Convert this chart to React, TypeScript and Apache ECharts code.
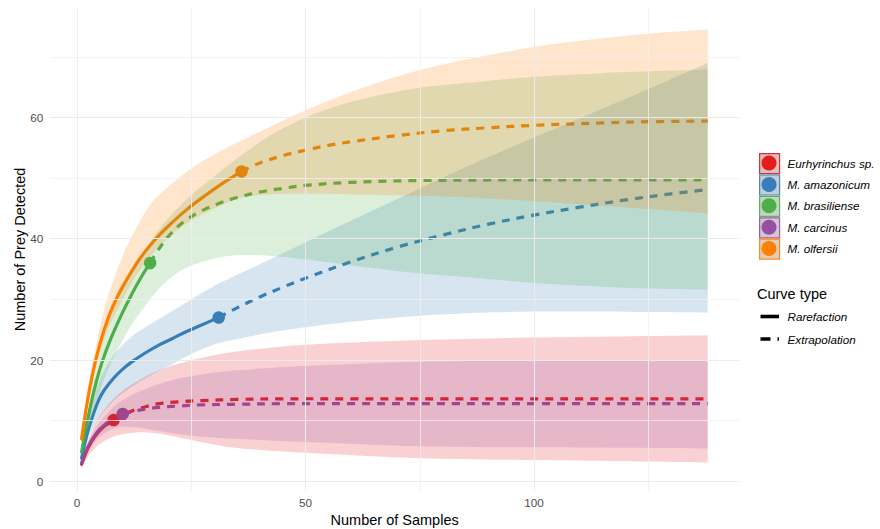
import React, { useEffect, useRef } from "react";
import * as echarts from "echarts";

// ---------- data ----------
const species = ["Eurhyrinchus sp.", "M. amazonicum", "M. brasiliense", "M. carcinus", "M. olfersii"];
const colors = ["#E41A1C", "#377EB8", "#4DAF4A", "#984EA3", "#FF7F00"];

// Eurhyrinchus sp.
const eurRareX = [1, 2, 3, 4, 5, 6, 7, 8];
const eurRareY = [2.8, 4.8, 6.3, 7.5, 8.4, 9.1, 9.6, 10.1];
const eurExtX = [8, 10, 12, 15, 18, 22, 27, 35, 45, 60, 80, 100, 138];
const eurExtY = [10.1, 10.9, 11.6, 12.3, 12.8, 13.1, 13.3, 13.5, 13.6, 13.6, 13.6, 13.6, 13.6];
const eurBandX = [1, 2, 3, 5, 8, 11, 15, 20, 27, 35, 50, 75, 100, 138];
const eurLow = [2.2, 3.6, 4.7, 6.2, 7.4, 7.9, 8.1, 7.6, 6.5, 5.5, 4.7, 3.8, 3.5, 3.1];
const eurUp = [3.3, 5.8, 7.8, 10.8, 13.6, 15.5, 17.3, 18.9, 20.3, 21.4, 22.5, 23.3, 23.7, 24.1];

// M. amazonicum
const amaRareX = [1, 2, 3, 4, 5, 6, 8, 10, 12, 15, 18, 21, 24, 27, 31];
const amaRareY = [3.8, 7.2, 9.8, 12.0, 13.8, 15.1, 17.0, 18.5, 19.7, 21.2, 22.5, 23.6, 24.7, 25.7, 27.0];
const amaExtX = [31, 35, 40, 45, 50, 60, 70, 80, 90, 100, 110, 120, 130, 138];
const amaExtY = [27.0, 28.6, 30.4, 32.0, 33.5, 36.2, 38.6, 40.6, 42.4, 43.9, 45.2, 46.4, 47.4, 48.1];
const amaBandX = [1, 2, 3, 5, 8, 12, 16, 20, 25, 31, 36, 42, 50, 60, 75, 88, 100, 112, 125, 138];
const amaLow = [3.3, 6.0, 8.0, 10.6, 13.3, 15.6, 17.4, 19.0, 21.0, 22.8, 23.6, 24.5, 25.4, 26.3, 27.3, 27.8, 28.0, 28.0, 27.9, 27.8];
const amaUp = [4.4, 8.5, 11.7, 16.8, 20.8, 23.9, 25.9, 27.7, 30.0, 32.6, 34.4, 36.5, 39.4, 43.0, 48.3, 52.8, 56.7, 60.5, 64.7, 69.0];

// M. brasiliense
const braRareX = [1, 2, 3, 4, 5, 6, 7, 8, 10, 12, 14, 16];
const braRareY = [4.8, 9.0, 12.6, 15.8, 18.5, 20.8, 22.8, 24.6, 27.9, 30.9, 33.6, 36.0];
const braExtX = [16, 18, 20, 23, 27, 31, 35, 40, 45, 50, 60, 75, 100, 138];
const braExtY = [36.0, 38.4, 40.4, 42.6, 44.5, 45.8, 46.8, 47.7, 48.3, 48.8, 49.3, 49.6, 49.7, 49.7];
const braBandX = [1, 2, 3, 5, 7, 10, 13, 16, 19, 23, 27, 31, 36, 42, 50, 60, 75, 88, 100, 115, 125, 138];
const braLow = [4.2, 6.8, 9.6, 14.8, 18.8, 23.3, 27.0, 30.0, 32.6, 34.9, 36.1, 36.9, 37.3, 37.2, 36.6, 35.6, 34.3, 33.5, 32.7, 32.1, 31.8, 31.6];
const braUp = [5.4, 10.0, 14.0, 21.0, 26.5, 32.0, 36.0, 39.5, 42.5, 45.8, 48.5, 50.9, 53.8, 56.9, 60.0, 62.6, 64.9, 65.9, 66.7, 67.3, 67.6, 67.9];

// M. carcinus
const carRareX = [1, 2, 3, 4, 5, 6, 7, 8, 9, 10];
const carRareY = [3.0, 5.0, 6.5, 7.7, 8.6, 9.3, 9.9, 10.4, 10.8, 11.1];
const carExtX = [10, 12, 15, 18, 22, 27, 35, 45, 60, 80, 138];
const carExtY = [11.1, 11.5, 11.9, 12.2, 12.4, 12.6, 12.7, 12.8, 12.8, 12.8, 12.8];
const carBandX = [1, 2, 3, 5, 8, 10, 13, 17, 22, 28, 35, 50, 75, 100, 138];
const carLow = [2.6, 4.4, 5.7, 7.4, 8.7, 9.0, 8.9, 8.4, 7.8, 7.3, 7.0, 6.5, 5.8, 5.6, 5.4];
const carUp = [3.4, 5.6, 7.3, 9.8, 12.3, 13.4, 14.6, 15.8, 16.9, 17.7, 18.3, 19.0, 19.7, 19.9, 20.0];

// M. olfersii
const olfRareX = [1, 2, 3, 4, 5, 6, 7, 8, 9, 10, 12, 14, 17, 20, 24, 28, 32, 36];
const olfRareY = [7.0, 12.0, 16.2, 19.7, 22.6, 25.1, 27.3, 29.1, 30.7, 32.1, 34.7, 37.0, 39.8, 42.1, 44.8, 47.1, 49.2, 51.1];
const olfExtX = [36, 40, 45, 50, 55, 60, 70, 80, 90, 100, 115, 125, 138];
const olfExtY = [51.1, 52.5, 53.7, 54.6, 55.4, 56.0, 57.0, 57.8, 58.3, 58.7, 59.1, 59.3, 59.4];
const olfBandX = [1, 2, 3, 5, 7, 10, 13, 16, 20, 25, 30, 36, 42, 50, 60, 72, 84, 100, 112, 125, 138];
const olfLow = [6.2, 10.9, 14.3, 21.0, 25.5, 30.0, 34.0, 37.0, 40.2, 43.0, 45.0, 46.8, 47.3, 47.4, 47.3, 47.1, 46.9, 46.2, 45.6, 44.9, 44.2];
const olfUp = [7.8, 13.6, 17.9, 25.4, 31.0, 37.2, 41.8, 45.6, 48.6, 51.6, 53.9, 56.2, 58.4, 61.2, 64.2, 67.2, 69.4, 71.6, 72.8, 73.8, 74.5];

const xMajorTicks = [0, 50, 100];
const xMinorTicks = [25, 75, 125];
const yMajorTicks = [0, 20, 40, 60];
const yMinorTicks = [10, 30, 50, 70];

const curveTypes = ["Rarefaction", "Extrapolation"];

const curves = [
  { rx: eurRareX, ry: eurRareY, ex: eurExtX, ey: eurExtY, bx: eurBandX, lo: eurLow, up: eurUp },
  { rx: amaRareX, ry: amaRareY, ex: amaExtX, ey: amaExtY, bx: amaBandX, lo: amaLow, up: amaUp },
  { rx: braRareX, ry: braRareY, ex: braExtX, ey: braExtY, bx: braBandX, lo: braLow, up: braUp },
  { rx: carRareX, ry: carRareY, ex: carExtX, ey: carExtY, bx: carBandX, lo: carLow, up: carUp },
  { rx: olfRareX, ry: olfRareY, ex: olfExtX, ey: olfExtY, bx: olfBandX, lo: olfLow, up: olfUp },
];

const FONT = "'Liberation Sans', Arial, Helvetica, sans-serif";

function hexToRgba(hex: string, a: number) {
  const n = parseInt(hex.slice(1), 16);
  return `rgba(${(n >> 16) & 255},${(n >> 8) & 255},${n & 255},${a})`;
}

export default function App() {
  const ref = useRef<HTMLDivElement>(null);

  useEffect(() => {
    if (!ref.current) return;
    const chart = echarts.init(ref.current, undefined, { renderer: "svg" });

    const series: any[] = [];

    // grid lines through the axes' scales
    series.push({
      type: "line",
      data: [],
      silent: true,
      z: 0,
      markLine: {
        silent: true,
        symbol: ["none", "none"],
        label: { show: false },
        animation: false,
        data: [
          ...xMajorTicks.map((v) => ({ xAxis: v, lineStyle: { color: "#EBEBEB", width: 1.1, type: "solid" } })),
          ...xMinorTicks.map((v) => ({ xAxis: v, lineStyle: { color: "#F0F0F0", width: 0.8, type: "solid" } })),
          ...yMajorTicks.map((v) => ({ yAxis: v, lineStyle: { color: "#EBEBEB", width: 1.1, type: "solid" } })),
          ...yMinorTicks.map((v) => ({ yAxis: v, lineStyle: { color: "#F0F0F0", width: 0.8, type: "solid" } })),
        ],
      },
    });

    // curves drawn as smooth polylines through api.coord
    const smoothLine = (xs: number[], ys: number[], col: string, dashed: boolean, name: string) => ({
      name,
      type: "custom",
      coordinateSystem: "cartesian2d",
      data: [[xs[0], ys[0]]],
      z: 2,
      silent: true,
      renderItem: (params: any, api: any) => ({
        type: "polyline",
        shape: { points: xs.map((x, k) => api.coord([x, ys[k]])), smooth: 0.35 },
        style: {
          stroke: col,
          fill: "none",
          lineWidth: 3.2,
          lineCap: dashed ? "butt" : "round",
          lineDash: dashed ? [8, 7] : null,
        },
        silent: true,
      }),
    });

    curves.forEach((c, i) => {
      const col = colors[i];
      series.push(smoothLine(c.rx, c.ry, col, false, species[i] + " rarefaction"));
      series.push(smoothLine(c.ex, c.ey, col, true, species[i] + " extrapolation"));
      series.push({
        name: species[i] + " observed",
        type: "scatter",
        data: [[c.rx[c.rx.length - 1], c.ry[c.ry.length - 1]]],
        symbolSize: 12.5,
        z: 3,
        itemStyle: { color: col, opacity: 1 },
        silent: true,
      });
    });

    // confidence bands: polygon between upper and lower bounds, through api.coord
    curves.forEach((c, i) => {
      const col = colors[i];
      series.push({
        name: species[i] + " band",
        type: "custom",
        coordinateSystem: "cartesian2d",
        data: [[c.bx[0], c.lo[0]]],
        z: 4,
        silent: true,
        renderItem: (params: any, api: any) => {
          const upPts = c.bx.map((x, k) => api.coord([x, c.up[k]]));
          const loPts = c.bx.map((x, k) => api.coord([x, c.lo[k]])).reverse();
          const pts: number[][] = [];
          upPts.forEach((p, k) => {
            pts.push(p);
            if (k === 0 || k === upPts.length - 1) pts.push([p[0], p[1]]);
          });
          loPts.forEach((p, k) => {
            pts.push(p);
            if (k === 0 || k === loPts.length - 1) pts.push([p[0], p[1]]);
          });
          return {
            type: "polygon",
            shape: { points: pts, smooth: 0.3 },
            style: { fill: hexToRgba(col, 0.2), stroke: "none" },
            silent: true,
          };
        },
      });
    });

    // legend drawn as graphics
    const legendTop = 153;
    const step = 21.4;
    const graphic: any[] = [];
    species.forEach((s, i) => {
      const y = legendTop + i * step;
      graphic.push({
        type: "rect",
        left: 759,
        top: y,
        shape: { x: 0, y: 0, width: 20, height: 20 },
        style: { fill: "#D9D9D9", stroke: hexToRgba(colors[i], 0.9), lineWidth: 1.2 },
        silent: true,
      });
      graphic.push({
        type: "rect",
        left: 759,
        top: y,
        shape: { x: 0, y: 0, width: 20, height: 20 },
        style: { fill: hexToRgba(colors[i], 0.12) },
        silent: true,
      });
      graphic.push({
        type: "circle",
        shape: { cx: 769, cy: y + 10, r: 7.5 },
        style: { fill: colors[i] },
        silent: true,
      });
      graphic.push({
        type: "text",
        x: 787.5,
        y: y + 10,
        style: {
          text: s,
          fill: "#000",
          font: `italic 11.7px ${FONT}`,
          verticalAlign: "middle",
        },
        silent: true,
      });
    });
    graphic.push({
      type: "text",
      x: 757,
      y: 294,
      style: { text: "Curve type", fill: "#000", font: `14.5px ${FONT}`, verticalAlign: "middle" },
      silent: true,
    });
    curveTypes.forEach((t, k) => {
      const y = 316.5 + k * 22.5;
      graphic.push({
        type: "line",
        shape: { x1: 760.5, y1: y, x2: 779, y2: y },
        style: { stroke: "#000", lineWidth: 3.6, lineDash: k === 0 ? null : [10, 7] },
        silent: true,
      });
      graphic.push({
        type: "text",
        x: 787.5,
        y,
        style: { text: t, fill: "#000", font: `italic 11.7px ${FONT}`, verticalAlign: "middle" },
        silent: true,
      });
    });

    chart.setOption({
      animation: false,
      backgroundColor: "#FFFFFF",
      textStyle: { fontFamily: FONT },
      grid: { left: 50.3, right: 141, top: 8, bottom: 38, containLabel: false, outerBoundsMode: "none" },
      xAxis: {
        type: "value",
        min: -5.85,
        max: 144.85,
        axisLine: { show: false },
        axisTick: { show: false },
        splitLine: { show: false },
        axisLabel: { customValues: xMajorTicks, color: "#4D4D4D", fontSize: 11.7, margin: 5, fontFamily: FONT },
        name: "Number of Samples",
        nameLocation: "middle",
        nameGap: 21,
        nameMoveOverlap: false,
        nameTextStyle: { fontSize: 14.5, color: "#000", fontFamily: FONT },
      },
      yAxis: {
        type: "value",
        min: -1.6,
        max: 78.05,
        axisLine: { show: false },
        axisTick: { show: false },
        splitLine: { show: false },
        axisLabel: { customValues: yMajorTicks, color: "#4D4D4D", fontSize: 11.7, margin: 7, fontFamily: FONT },
        name: "Number of Prey Detected",
        nameLocation: "middle",
        nameGap: 23,
        nameMoveOverlap: false,
        nameTextStyle: { fontSize: 14.5, color: "#000", fontFamily: FONT },
      },
      graphic,
      series,
    });

    return () => chart.dispose();
  }, []);

  return <div ref={ref} style={{ width: 880, height: 529, position: "absolute", left: 0, top: 0 }} />;
}
